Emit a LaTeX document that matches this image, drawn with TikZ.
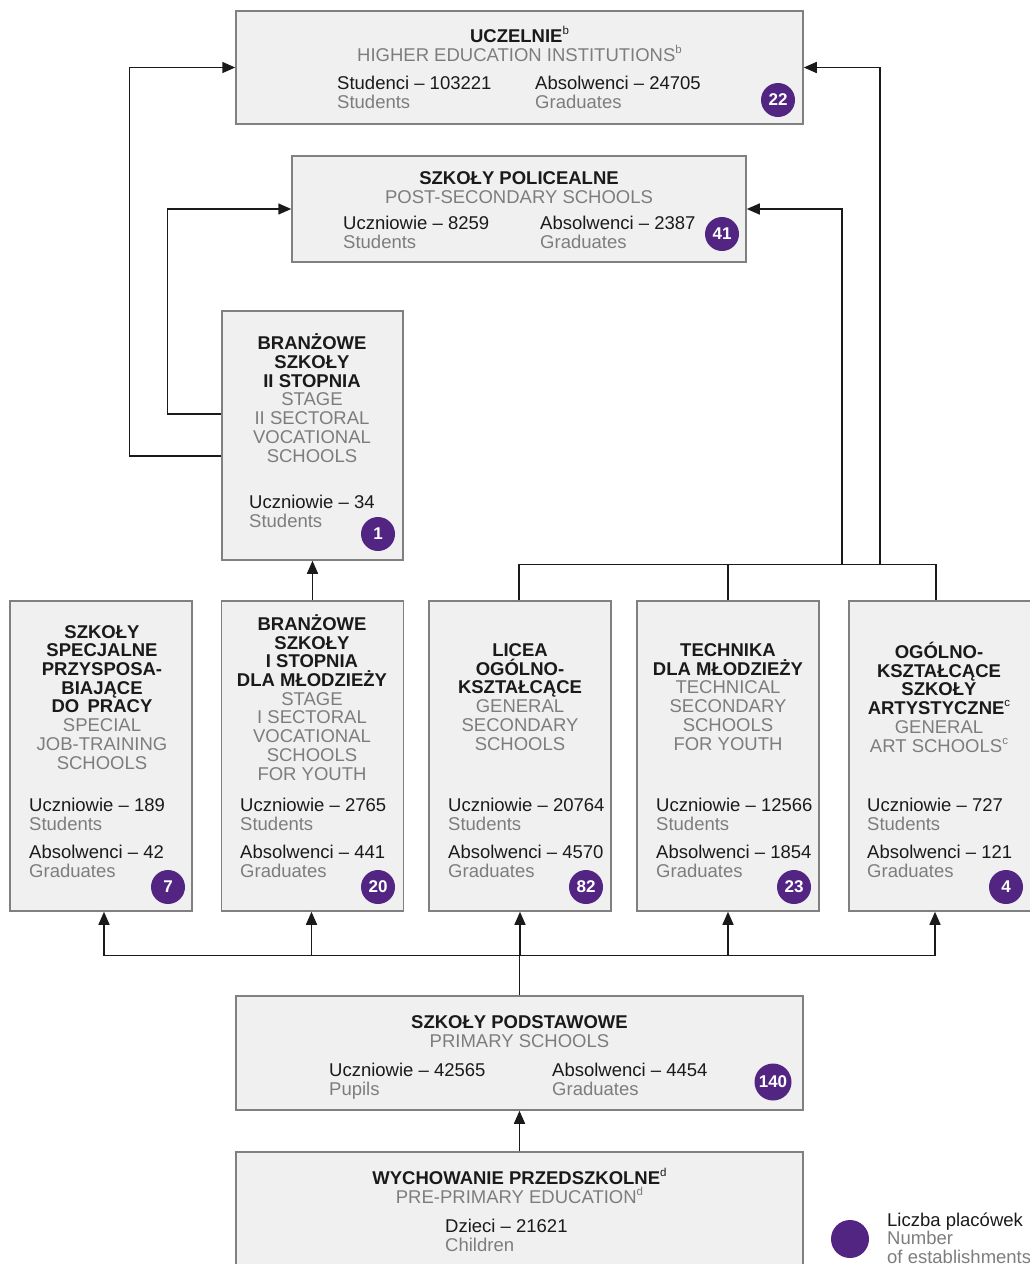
\documentclass[tikz,border=0pt]{standalone}
\usepackage{fontspec}
\setmainfont{Liberation Sans}
\usepackage{tikz}
\usetikzlibrary{calc}
\usetikzlibrary{positioning}
\usetikzlibrary{arrows.meta}

\definecolor{boxfill}{HTML}{F0F0F0}
\definecolor{boxline}{HTML}{808080}
\definecolor{engray}{HTML}{7D7D7D}
\definecolor{ink}{HTML}{1A1A1A}
\definecolor{badge}{HTML}{522583}

\newcommand{\en}[1]{{\color{engray}\mdseries #1}}
\newcommand{\footmark}[1]{\raisebox{0.42em}{\fontsize{11.5}{11.5}\selectfont\mdseries #1}}

\begin{document}
\begin{tikzpicture}[x=1pt,y=-1pt,
  every node/.style={inner sep=0pt,text=ink,font=\fontsize{18.5}{18.7}\selectfont},
  schoolbox/.style={draw=boxline,fill=boxfill,line width=1.5pt},
  wide/.style={schoolbox,minimum width=567,minimum height=113},
  tall/.style={schoolbox,minimum width=182,minimum height=310},
  title/.style={align=center,anchor=base,font=\fontsize{18.5}{18.7}\selectfont\bfseries},
  stat/.style={align=left,anchor=base west},
  count/.style={circle,fill=badge,text=white,minimum size=34,font=\fontsize{17}{17}\selectfont\bfseries},
  wire/.style={draw=ink,line width=1.5pt},
  flow/.style={wire,-{Triangle[length=13,width=11]}}]
\useasboundingbox (0,0) rectangle (1030,1264);

% boxes
\node[wide] (uczelnie) at (519.5,67.5) {};
\node[schoolbox,minimum width=454,minimum height=106] (policealne) at (519,209) {};
\node[schoolbox,minimum width=181,minimum height=249] (branzowe2) at (312.5,435.5) {};
\foreach \name/\cx in {specjalne/101,branzowe1/312.5,licea/520,technika/728,artystyczne/940}
  \node[tall] (\name) at (\cx,756) {};
\node[wide,minimum height=114] (podstawowe) at (519.5,1053) {};
\node[wide,minimum height=138] (przedszkolne) at (519.5,1221) {};

% connectors
\draw[flow] ([yshift=-20.5]branzowe2.west) -- ++(-92,0) |- (uczelnie.west);
\draw[flow] ([yshift=21.5]branzowe2.west) -- ++(-54,0) |- (policealne.west);
\draw[flow] (branzowe1.north) -- (branzowe2.south);
\draw[wire] ([xshift=-1]licea.north) -- ++(0,-36) -| ([xshift=-4]artystyczne.north);
\draw[wire] (technika.north) -- ++(0,-36);
\coordinate (busa) at (842,565);
\coordinate (busb) at (880,565);
\draw[flow] (busa) |- (policealne.east);
\draw[flow] (busb) |- (uczelnie.east);
\draw[wire] (podstawowe.north) -- ++(0,-40) coordinate (lowbus);
\foreach \name/\dx in {specjalne/3,branzowe1/-1,licea/0,technika/0,artystyczne/-5}
  \draw[flow] (lowbus) -| ([xshift=\dx]\name.south);
\draw[flow] (przedszkolne.north) -- (podstawowe.south);

% higher education
\node[title] (uczelnie-t) at (519.5,61) {UCZELNIE\footmark{b}\\\en{HIGHER EDUCATION INSTITUTIONS\footmark{b}}};
\node[stat] (uczelnie-s) at (337,108) {Studenci – 103221\\\en{Students}};
\node[stat] (uczelnie-g) at (535,108) {Absolwenci – 24705\\\en{Graduates}};
\node[count] (uczelnie-n) at (778,100) {22};

% post-secondary
\node[title] (policealne-t) at (519,203) {SZKOŁY POLICEALNE\\\en{POST-SECONDARY SCHOOLS}};
\node[stat] (policealne-s) at (343,248) {Uczniowie – 8259\\\en{Students}};
\node[stat] (policealne-g) at (540,248) {Absolwenci – 2387\\\en{Graduates}};
\node[count] (policealne-n) at (722,234) {41};

% stage II
\node[title] (branzowe2-t) at (312,462) {BRANŻOWE\\SZKOŁY\\II STOPNIA\\\en{STAGE}\\\en{II SECTORAL}\\\en{VOCATIONAL}\\\en{SCHOOLS}};
\node[stat] (branzowe2-s) at (249,527) {Uczniowie – 34\\\en{Students}};
\node[count] (branzowe2-n) at (378,534) {1};

% secondary row
\node[title] (specjalne-t) at (102,769) {SZKOŁY\\SPECJALNE\\PRZYSPOSA-\\BIAJĄCE\\DO\hspace{0.45em}PRACY\\\en{SPECIAL}\\\en{JOB-TRAINING}\\\en{SCHOOLS}};
\node[title] (branzowe1-t) at (312,780) {BRANŻOWE\\SZKOŁY\\I STOPNIA\\DLA MŁODZIEŻY\\\en{STAGE}\\\en{I SECTORAL}\\\en{VOCATIONAL}\\\en{SCHOOLS}\\\en{FOR YOUTH}};
\node[title] (licea-t) at (520,750) {LICEA\\OGÓLNO-\\KSZTAŁCĄCE\\\en{GENERAL}\\\en{SECONDARY}\\\en{SCHOOLS}};
\node[title] (technika-t) at (728,750) {TECHNIKA\\DLA MŁODZIEŻY\\\en{TECHNICAL}\\\en{SECONDARY}\\\en{SCHOOLS}\\\en{FOR YOUTH}};
\node[title] (artystyczne-t) at (939,752) {OGÓLNO-\\KSZTAŁCĄCE\\SZKOŁY\\ARTYSTYCZNE\footmark{c}\\\en{GENERAL}\\\en{ART SCHOOLS\footmark{c}}};
\foreach \name/\lx/\cx/\pupils/\grads/\num in {specjalne/29/168/189/42/7,
    branzowe1/240/378/2765/441/20, licea/448/586/20764/4570/82,
    technika/656/794/12566/1854/23, artystyczne/867/1006/727/121/4} {
  \node[stat] (\name-s) at (\lx,830) {Uczniowie – \pupils\\\en{Students}};
  \node[stat] (\name-g) at (\lx,877) {Absolwenci – \grads\\\en{Graduates}};
  \node[count] (\name-n) at (\cx,887) {\num};
}

% primary
\node[title] (podstawowe-t) at (519.5,1047) {SZKOŁY PODSTAWOWE\\\en{PRIMARY SCHOOLS}};
\node[stat] (podstawowe-s) at (329,1095) {Uczniowie – 42565\\\en{Pupils}};
\node[stat] (podstawowe-g) at (552,1095) {Absolwenci – 4454\\\en{Graduates}};
\node[count,minimum size=37] (podstawowe-n) at (773,1082) {140};

% pre-primary
\node[title] (przedszkolne-t) at (519.5,1203) {WYCHOWANIE PRZEDSZKOLNE\footmark{d}\\\en{PRE-PRIMARY EDUCATION\footmark{d}}};
\node[stat] (przedszkolne-s) at (445,1251) {Dzieci – 21621\\\en{Children}};

% legend
\node[count,minimum size=38] (legend-n) at (850,1239) {};
\node[stat] (legend-t) at (887,1263.5) {Liczba placówek\\\en{Number}\\\en{of establishments}};
\end{tikzpicture}
\end{document}
